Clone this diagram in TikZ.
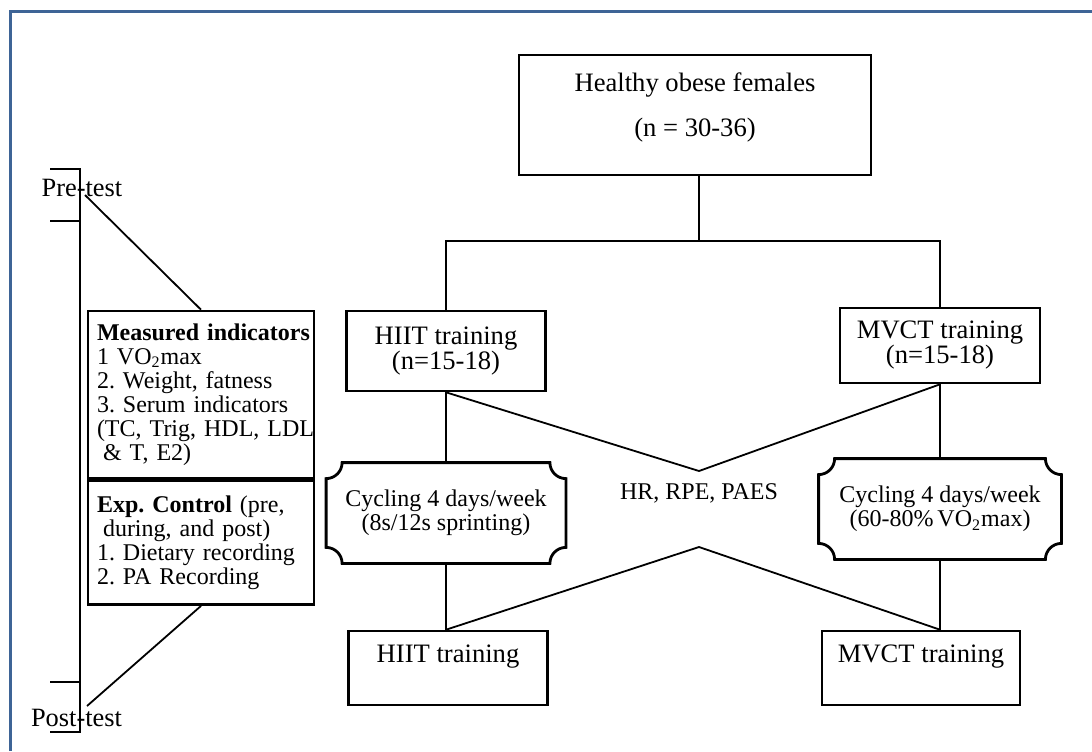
\documentclass[tikz,border=0pt]{standalone}
\usepackage{fontspec}
\setmainfont{Liberation Serif}
\frenchspacing
\usetikzlibrary{positioning}

\definecolor{frameblue}{RGB}{62,100,150}

% box with concave corners, drawn round a named node
\newcommand{\notchbox}[1]{%
  \draw[plaqueline] ([xshift=8pt]#1.north west) -- ([xshift=-8pt]#1.north east)
    arc (180:270:8pt) -- ([yshift=8pt]#1.south east)
    arc (90:180:8pt) -- ([xshift=8pt]#1.south west)
    arc (0:90:8pt) -- ([yshift=-8pt]#1.north west)
    arc (270:360:8pt) -- cycle;}

\begin{document}
\begin{tikzpicture}[
    x=0.5pt, y=-0.5pt,
    box/.style={rectangle, draw=black, line width=1.3pt, align=center, inner sep=2pt, font=\fontsize{13.3}{12.5}\selectfont},
    endbox/.style={box, anchor=base, text height=14pt, text depth=20pt, inner ysep=1.5pt},
    plaque/.style={rectangle, align=center, minimum width=120pt, minimum height=50pt, font=\fontsize{12}{12}\selectfont},
    plaqueline/.style={line width=1.4pt, line join=miter},
    listbox/.style={rectangle, draw=black, line width=1.3pt, align=left, text width=110pt, inner xsep=1.5pt,
        font=\fontsize{12}{12}\selectfont, execute at begin node={\leftskip=3pt\hyphenpenalty=10000}},
    testlabel/.style={inner sep=0pt, font=\fontsize{13.2}{14}\selectfont},
    trunk/.style={line width=1.2pt},
    link/.style={line width=0.9pt},
    bracket/.style={line width=1.3pt},
    frame/.style={draw=frameblue, line width=1.5pt}
]

% Frame
\useasboundingbox (0,0) rectangle (1092,751);
\draw[frame] (10,751) -- (10,11) -- (1092,11);

% Participants
\node[box, minimum width=176pt, minimum height=60pt] (obese) at (695,115)
    {Healthy obese females\\[10pt](n = 30-36)\rule[-10pt]{0pt}{1pt}};

% Groups
\node[box, minimum width=99.5pt, minimum height=40pt] (hiit) at (446,351) {HIIT training\\(n=15-18)};
\node[box, minimum width=100pt, minimum height=37.5pt] (mvct) at (940,345.5) {MVCT training\\(n=15-18)};

% Training programmes
\node[plaque, minimum width=119.5pt] (cycleh) at (446,513) {Cycling 4 days/week\\(8s/12s sprinting)};
\node[plaque, minimum width=121pt] (cyclem) at (940,509) {Cycling 4 days/week\\(60-80\%\,VO\textsubscript{2}max)};
\notchbox{cycleh}
\notchbox{cyclem}

% Monitoring
\node[font=\fontsize{12}{12}\selectfont] (monitor) at (699,493) {HR, RPE, PAES};

% End of programme
\node[endbox, minimum width=99.5pt] (hiitend) at (448,662) {HIIT training};
\node[endbox, minimum width=99pt] (mvctend) at (921,662) {MVCT training};

% Tests
\node[listbox, minimum height=83.5pt] (measured) at (201,394.5)
    {\textbf{Measured~indicators}\\1~VO\textsubscript{2}max\\2.~Weight,~fatness\\3.~Serum~indicators\\(TC,~Trig,~HDL,~LDL\\\hspace*{3pt}\&~T,~E2)};
\node[listbox, minimum height=62pt, below=0pt of measured] (control)
    {\textbf{Exp.~Control}~(pre,\\\hspace*{3pt}during,~and~post)\\1.~Dietary~recording\\2.~PA~Recording};

\node[testlabel] (pretest) at (82,188) {Pre-test};
\node[testlabel] (posttest) at (76.5,718) {Post-test};

\draw[bracket] (50,169) -- (80,169) -- (80,732) -- (50,732);
\draw[bracket] (50,221) -- (80,221);
\draw[bracket] (50,682) -- (80,682);

\coordinate (pretip) at (85,195);
\coordinate (posttip) at (87,706);
\draw[link] (pretip) -- (measured.north);
\draw[link] (control.south) -- (posttip);

% Connectors
\coordinate (split) at (699,241);
\coordinate (crosstop) at (699,471);
\coordinate (crossbot) at (699,547);
\draw[trunk] (obese.south -| split) -- (split);
\draw[trunk] (hiit.north) |- (split) -| (mvct.north);
\draw[link] (hiit.south) -- (cycleh.north);
\draw[link] (mvct.south) -- (cyclem.north);
\draw[link] (cycleh.south) -- (cycleh.south |- hiitend.north);
\draw[link] (cyclem.south) -- (cyclem.south |- mvctend.north);
\draw[link] (hiit.south) -- (crosstop) -- (mvct.south);
\draw[link] (cycleh.south |- hiitend.north) -- (crossbot) -- (cyclem.south |- mvctend.north);

\end{tikzpicture}
\end{document}
